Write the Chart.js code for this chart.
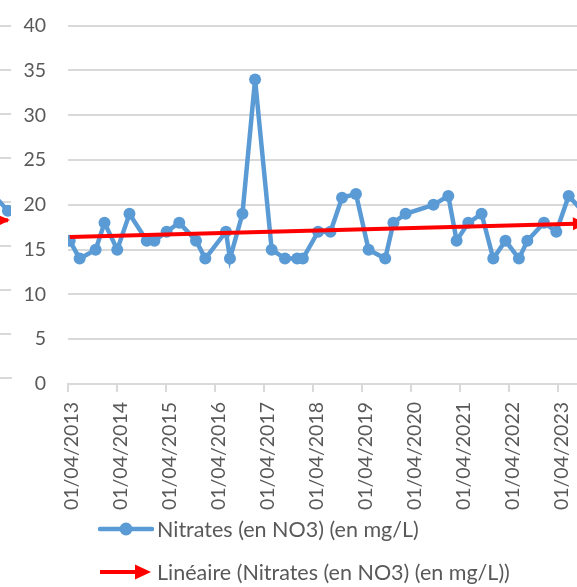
<!DOCTYPE html>
<html>
<head>
<meta charset="utf-8">
<script src="https://cdn.jsdelivr.net/npm/chart.js@4.4.1/dist/chart.umd.min.js"></script>
<style>
html, body { margin: 0; padding: 0; background: #fff; }
#wrap { position: relative; width: 577px; height: 587px; overflow: hidden; background: #fff; font-family: Lato, sans-serif; }
#mainBox { position: absolute; left: 17px; top: -8px; width: 577px; height: 528px; }
#edgeBox { position: absolute; left: -560px; top: -8px; width: 577px; height: 522px; }
.row { position: absolute; left: 98px; height: 26px; display: flex; align-items: center; font-size: 21.5px; color: #595959; white-space: nowrap; }
.row svg { margin-right: 3px; }
</style>
</head>
<body>
<div id="wrap">
  <div id="edgeBox"><canvas id="edgeChart"></canvas></div>
  <div id="mainBox"><canvas id="mainChart"></canvas></div>
  <div id="legend"></div>
</div>
<script>
"use strict";
// sample dates (yyyy-mm-dd) and nitrate values
const dates = [
  "2013-04-14", "2013-06-27", "2013-10-24", "2013-12-29",
  "2014-04-03", "2014-07-03", "2014-11-09",
  "2015-01-05", "2015-04-06", "2015-07-09", "2015-11-11",
  "2016-01-19", "2016-06-21", "2016-07-21", "2016-10-22",
  "2017-01-24", "2017-05-28", "2017-09-04", "2017-12-04",
  "2018-01-15", "2018-05-09", "2018-08-09", "2018-11-03",
  "2019-02-15", "2019-05-20", "2019-09-21", "2019-11-21",
  "2020-02-20", "2020-09-14",
  "2021-01-03", "2021-03-06", "2021-06-01", "2021-09-08", "2021-12-04",
  "2022-03-05", "2022-06-13", "2022-08-15", "2022-12-17",
  "2023-03-19", "2023-06-19", "2023-10-18"
];
const nitrates = [
  16, 14, 15, 18,
  15, 19, 16,
  16, 17, 18, 16,
  14, 17, 14, 19,
  34, 15, 14, 14,
  14, 17, 17, 20.8,
  21.2, 15, 14, 18,
  19, 20,
  21, 16, 18, 19, 14,
  16, 14, 16, 18,
  17, 21, 19
];
// linear trend: value at first and last date
const trendValues = [16.4, 17.92];
const tickLabels = [
  "01/04/2013", "01/04/2014", "01/04/2015", "01/04/2016", "01/04/2017", "01/04/2018",
  "01/04/2019", "01/04/2020", "01/04/2021", "01/04/2022", "01/04/2023"
];
const axisStart = "2013-04-01";
const axisEnd = "2023-11-10";
const seriesLabel = "Nitrates (en NO3) (en mg/L)";
const trendLabel = "Linéaire (Nitrates (en NO3) (en mg/L))";

const BLUE = "#5b9bd5";
const RED = "#ff0000";
const GRID = "#d9d9d9";
const TEXT = "#595959";
const FONT = { family: "Lato", size: 19.5 };

const iso = s => Date.parse(s + "T00:00:00Z");
const fr = s => { const [d, m, y] = s.split("/").map(Number); return Date.UTC(y, m - 1, d); };

// arrow head at the end of the trend line
const arrowPlugin = {
    id: "trendArrow",
    afterDatasetsDraw(chart) {
        const pts = chart.getDatasetMeta(1).data;
        if (pts.length < 2) return;
        const a = pts[pts.length - 2], b = pts[pts.length - 1];
        const ang = Math.atan2(b.y - a.y, b.x - a.x);
        const ctx = chart.ctx;
        ctx.save();
        ctx.translate(b.x, b.y);
        ctx.rotate(ang);
        ctx.beginPath();
        ctx.moveTo(2, 0);
        ctx.lineTo(-12, -6.5);
        ctx.lineTo(-12, 6.5);
        ctx.closePath();
        ctx.fillStyle = RED;
        ctx.fill();
        ctx.restore();
    }
};

function makeChart(id) {
    return new Chart(document.getElementById(id), {
        type: "line",
        data: {
            datasets: [{
                    label: seriesLabel,
                    data: dates.map((d, i) => ({ x: iso(d), y: nitrates[i] })),
                    borderColor: BLUE,
                    backgroundColor: BLUE,
                    borderWidth: 4.5,
                    pointRadius: 6,
                    pointHoverRadius: 6,
                    pointBorderWidth: 0,
                    order: 2
                }, {
                    label: trendLabel,
                    data: [{ x: iso(dates[0]), y: trendValues[0] }, { x: iso(dates[dates.length - 1]), y: trendValues[1] }],
                    borderColor: RED,
                    borderWidth: 4,
                    pointRadius: 0,
                    order: 1
                }]
        },
        options: {
            responsive: true,
            maintainAspectRatio: false,
            animation: false,
            events: [],
            layout: { padding: { top: 16, right: 1, left: 0, bottom: 0 } },
            plugins: { legend: { display: false }, tooltip: { enabled: false } },
            scales: {
                x: {
                    type: "linear",
                    min: iso(axisStart),
                    max: iso(axisEnd),
                    afterBuildTicks: s => { s.ticks = tickLabels.map(t => ({ value: fr(t) })); },
                    afterFit: s => { s.height = 136; },
                    ticks: {
                        callback: (v, i) => tickLabels[i],
                        autoSkip: false,
                        minRotation: 90,
                        maxRotation: 90,
                        padding: 10,
                        labelOffset: 4,
                        color: TEXT,
                        font: FONT
                    },
                    grid: { drawOnChartArea: false, drawTicks: true, tickLength: 8, color: GRID, lineWidth: 2 },
                    border: { display: true, color: GRID, width: 2 }
                },
                y: {
                    min: 0,
                    max: 40,
                    afterFit: s => { s.width = 51; },
                    ticks: { stepSize: 5, padding: 22, color: TEXT, font: FONT },
                    grid: { drawTicks: false, color: GRID, lineWidth: 2 },
                    border: { display: false }
                }
            }
        },
        plugins: [arrowPlugin]
    });
}

const mainChart = makeChart("mainChart");
makeChart("edgeChart");

// html legend built from the datasets
const symbols = [
    `<svg width="56" height="20"><line x1="2" y1="10" x2="54" y2="10" stroke="${BLUE}" stroke-width="4.5" stroke-linecap="round"/><circle cx="28" cy="10" r="6.5" fill="${BLUE}"/></svg>`,
    `<svg width="56" height="20"><line x1="2" y1="10" x2="40" y2="10" stroke="${RED}" stroke-width="4"/><polygon points="53,10 37,2.5 37,17.5" fill="${RED}"/></svg>`
];
const tops = [516, 559];
const legend = document.getElementById("legend");
mainChart.data.datasets.forEach((ds, i) => {
    const row = document.createElement("div");
    row.className = "row";
    row.style.top = tops[i] + "px";
    row.innerHTML = symbols[i] + "<span>" + ds.label + "</span>";
    legend.appendChild(row);
});
</script>
</body>
</html>
